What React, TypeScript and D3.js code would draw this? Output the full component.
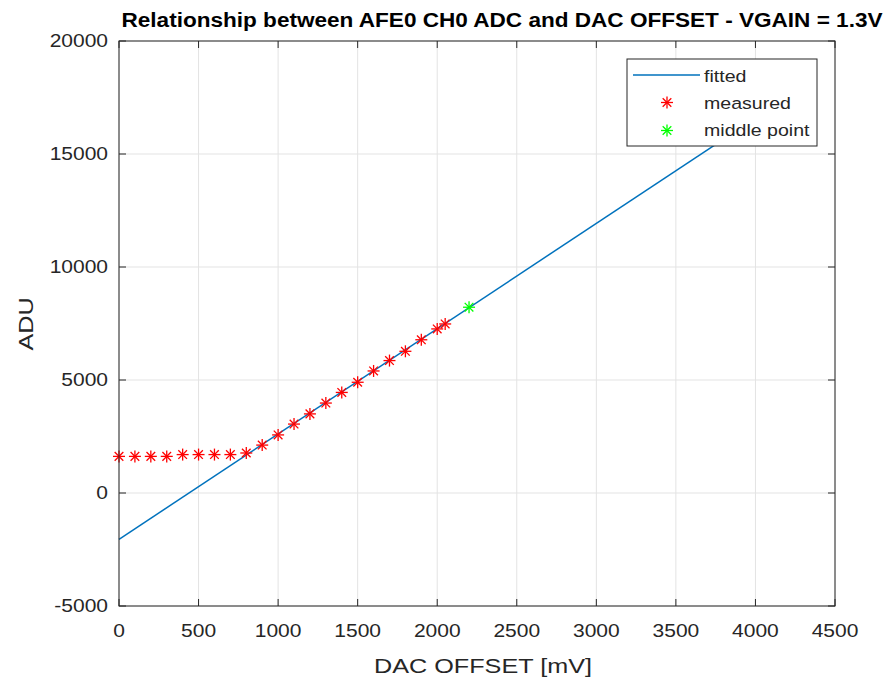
import React from "react";
import * as d3 from "d3";

// Measured ADC output vs. DAC offset
const measuredX = [0, 100, 200, 300, 400, 500, 600, 700, 800, 900, 1000, 1100, 1200, 1300, 1400, 1500, 1600, 1700, 1800, 1900, 2000, 2050];
const measuredY = [1620, 1620, 1620, 1620, 1700, 1700, 1700, 1700, 1770, 2120, 2570, 3050, 3500, 3980, 4450, 4900, 5400, 5860, 6270, 6780, 7260, 7480];

// Linear fit endpoints
const fittedX = [0, 4000];
const fittedY = [-2050, 16590];

// Mid-scale point
const middleX = [2200];
const middleY = [8220];

const xTicks = [0, 500, 1000, 1500, 2000, 2500, 3000, 3500, 4000, 4500];
const yTicks = [-5000, 0, 5000, 10000, 15000, 20000];

const W = 890;
const H = 677;
const M = { left: 119, right: 835, top: 41, bottom: 606 };
const FONT = "'Liberation Sans', Arial, Helvetica, sans-serif";
const TXT = "#262626";
const SX = 1.2; // horizontal glyph widening

function WideText({ x, y, size, anchor = "start", rotate = 0, weight = "normal", children }: any) {
  return (
    <text
      transform={`translate(${x},${y}) rotate(${rotate}) scale(${SX},1)`}
      fontFamily={FONT}
      fontSize={size}
      fontWeight={weight}
      fill={TXT}
      textAnchor={anchor}
    >
      {children}
    </text>
  );
}

function Asterisk({ cx, cy, r, color }: { cx: number; cy: number; r: number; color: string }) {
  const d = r * 0.72;
  return (
    <g stroke={color} strokeWidth={1.3} fill="none">
      <line x1={cx - r} y1={cy} x2={cx + r} y2={cy} />
      <line x1={cx} y1={cy - r} x2={cx} y2={cy + r} />
      <line x1={cx - d} y1={cy - d} x2={cx + d} y2={cy + d} />
      <line x1={cx - d} y1={cy + d} x2={cx + d} y2={cy - d} />
    </g>
  );
}

export default function App() {
  const x = d3.scaleLinear().domain([0, 4500]).range([M.left, M.right]);
  const y = d3.scaleLinear().domain([-5000, 20000]).range([M.bottom, M.top]);

  const line = d3
    .line<number>()
    .x((_, i) => x(fittedX[i]))
    .y((d) => y(d));

  const tickLen = 7;

  return (
    <svg width={W} height={H} style={{ position: "absolute", left: 0, top: 0, background: "#fff" }}>
      <rect x={0} y={0} width={W} height={H} fill="#fff" />
      <rect x={M.left} y={M.top} width={M.right - M.left} height={M.bottom - M.top} fill="#fff" />

      {/* grid */}
      <g stroke="#e3e3e3" strokeWidth={1}>
        {xTicks.map((t) => (
          <line key={"gx" + t} x1={x(t)} x2={x(t)} y1={M.top} y2={M.bottom} />
        ))}
        {yTicks.map((t) => (
          <line key={"gy" + t} x1={M.left} x2={M.right} y1={y(t)} y2={y(t)} />
        ))}
      </g>

      {/* fitted line */}
      <path d={line(fittedY) || ""} fill="none" stroke="#0072BD" strokeWidth={1.5} />

      {/* measured points */}
      {measuredX.map((mx, i) => (
        <Asterisk key={"m" + i} cx={x(mx)} cy={y(measuredY[i])} r={6} color="#ff0000" />
      ))}
      {middleX.map((mx, i) => (
        <Asterisk key={"g" + i} cx={x(mx)} cy={y(middleY[i])} r={6} color="#00ff00" />
      ))}

      {/* axes box and ticks */}
      <g stroke={TXT} strokeWidth={1} fill="none">
        <rect x={M.left} y={M.top} width={M.right - M.left} height={M.bottom - M.top} />
        {xTicks.map((t) => (
          <g key={"tx" + t}>
            <line x1={x(t)} x2={x(t)} y1={M.bottom} y2={M.bottom - tickLen} />
            <line x1={x(t)} x2={x(t)} y1={M.top} y2={M.top + tickLen} />
          </g>
        ))}
        {yTicks.map((t) => (
          <g key={"ty" + t}>
            <line x1={M.left} x2={M.left + tickLen} y1={y(t)} y2={y(t)} />
            <line x1={M.right} x2={M.right - tickLen} y1={y(t)} y2={y(t)} />
          </g>
        ))}
      </g>

      {/* tick labels */}
      {xTicks.map((t) => (
        <WideText key={"lx" + t} x={x(t)} y={637} size={17.5} anchor="middle">
          {String(t)}
        </WideText>
      ))}
      {yTicks.map((t) => (
        <WideText key={"ly" + t} x={108} y={y(t) + 6} size={17.5} anchor="end">
          {t < 0 ? "-" + Math.abs(t) : String(t)}
        </WideText>
      ))}

      {/* axis titles */}
      <WideText x={483} y={673} size={21} anchor="middle">
        DAC OFFSET [mV]
      </WideText>
      <WideText x={33} y={324} size={21} anchor="middle" rotate={-90}>
        ADU
      </WideText>

      {/* title */}
      <text
        x={502}
        y={27}
        fontFamily={FONT}
        fontSize={19.5}
        fontWeight="bold"
        fill="#000"
        textAnchor="middle"
        textLength={761}
        lengthAdjust="spacingAndGlyphs"
      >
        Relationship between AFE0 CH0 ADC and DAC OFFSET - VGAIN = 1.3V
      </text>

      {/* legend */}
      <g>
        <rect x={627} y={59} width={190} height={87} fill="#fff" stroke={TXT} strokeWidth={1} />
        <line x1={633} x2={700} y1={75} y2={75} stroke="#0072BD" strokeWidth={1.5} />
        <WideText x={704} y={81.5} size={16.3}>fitted</WideText>
        <Asterisk cx={667} cy={102.5} r={6} color="#ff0000" />
        <WideText x={704} y={108.5} size={16.3}>measured</WideText>
        <Asterisk cx={667} cy={130.5} r={6} color="#00ff00" />
        <WideText x={704} y={136} size={16.3}>middle point</WideText>
      </g>
    </svg>
  );
}
